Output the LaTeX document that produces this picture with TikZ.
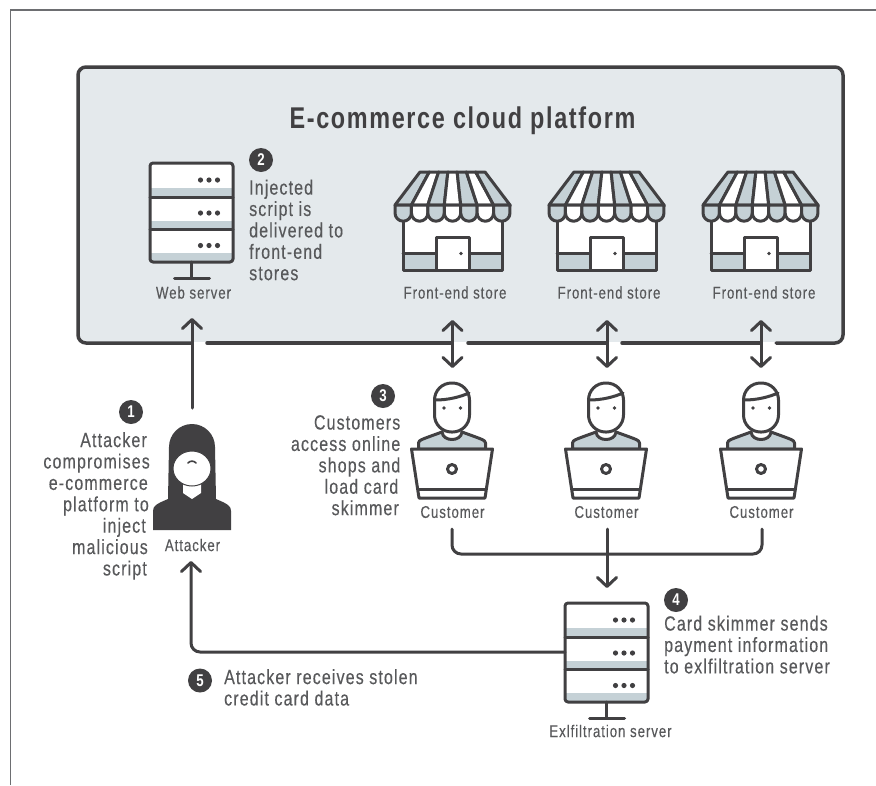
\documentclass[tikz,border=0pt]{standalone}
\usepackage{fontspec}
\setmainfont[FakeStretch=0.78,LetterSpace=5.5,UprightFeatures={FakeBold=0.25},BoldFont={Liberation Sans Bold}]{Liberation Sans}
\usetikzlibrary{arrows.meta}
\definecolor{ink}{HTML}{414042}
\definecolor{txt}{HTML}{58595B}
\definecolor{band}{HTML}{C5D1D6}
\definecolor{plat}{HTML}{E4E9EC}
\definecolor{frame}{HTML}{6D6E71}
\tikzset{
  icon/.style={draw=ink,line width=3pt,line join=round,line cap=round},
  conn/.style={draw=ink,line width=3pt,line cap=round,rounded corners=9pt},
  tipend/.style={-{Straight Barb[length=9pt,width=19pt,round]}},
  tipboth/.style={{Straight Barb[length=9pt,width=19pt,round]}-{Straight Barb[length=9pt,width=19pt,round]}},
  label/.style={text=txt,font=\fontsize{17}{17}\selectfont,inner sep=0pt,anchor=center},
  note/.style={text=txt,font=\fontsize{20.5}{21.4}\selectfont,inner sep=0pt},
  badge/.style={circle,fill=ink,text=white,minimum size=24pt,inner sep=0pt,font=\fontsize{17}{17}\selectfont\bfseries},
  serverpic/.pic={
    \fill[white,rounded corners=3pt] (-41.5,163) rectangle (41.5,262);
    \fill[band] (-41.5,188) rectangle (41.5,197);
    \fill[band] (-41.5,221) rectangle (41.5,229);
    \fill[band] (-41.5,253) rectangle (41.5,262);
    \draw[icon,rounded corners=3pt] (-41.5,163) rectangle (41.5,262);
    \draw[icon] (-41.5,197) -- (41.5,197);
    \draw[icon] (-41.5,229) -- (41.5,229);
    \draw[icon] (0,262) -- (0,278);
    \draw[icon] (-17,278) -- (18,278);
    \foreach \yy in {180,213,245.5}{\foreach \xx in {9,17.5,26}{\fill[ink] (\xx,\yy) circle[radius=2.6pt];}}
  },
  storepic/.pic={
    \fill[white] (-49.5,215) rectangle (49.5,270);
    \fill[band] (-49.5,253) rectangle (49.5,270);
    \draw[icon] (-49.5,215) -- (-49.5,270) -- (49.5,270) -- (49.5,215);
    \draw[icon] (-49.5,253) -- (49.5,253);
    \draw[icon,fill=white] (-16.5,270) -- (-16.5,237) -- (16.5,237) -- (16.5,270) -- cycle;
    \fill[ink] (8.5,253.5) circle[radius=1.9pt];
    \foreach \ii [evaluate=\ii as \ta using -32.5+\ii*65/7,
                  evaluate=\ii as \tb using -32.5+(\ii+1)*65/7,
                  evaluate=\ii as \ba using -57.5+\ii*115/7,
                  evaluate=\ii as \bb using -57.5+(\ii+1)*115/7,
                  evaluate=\ii as \cc using {int(mod(\ii,2))}] in {0,...,6}{
      \ifnum\cc=0 \def\stripe{band}\else \def\stripe{white}\fi
      \draw[icon,fill=\stripe] (\ta,172) -- (\tb,172) -- (\bb,205) -- (\ba,205) -- cycle;
      \draw[icon,fill=\stripe] (\ba,205) -- (\ba,213) arc[start angle=180,end angle=360,radius=8.2pt] -- (\bb,205) -- cycle;
    }
  },
  customerpic/.pic={
    \draw[icon,fill=band] (-33.5,449) -- (-33.5,443) .. controls (-33.5,440) and (-29,439) .. (-10,432)
       .. controls (-9,442) and (9,442) .. (10,432)
       .. controls (29,439) and (33.5,440) .. (33.5,443) -- (33.5,449) -- cycle;
    \draw[icon,fill=white,rounded corners=17pt] (-17.5,383) rectangle (17.5,432);
    \draw[icon] (-16.5,400) .. controls (-4,400) and (8,397) .. (17,393);
    \fill[ink] (-8,408) circle[radius=1.9pt];
    \fill[ink] (8.5,408) circle[radius=1.9pt];
    \draw[icon,fill=white] (-40.5,449) -- (40.5,449) -- (33,498) -- (-33,498) -- cycle;
    \draw[icon] (-34,489) -- (34,489);
    \draw[icon,fill=white] (0,469) circle[radius=4.5pt];
  },
  attackerpic/.pic={
    \fill[ink] (-39,530) -- (-39,511) .. controls (-39,506) and (-36,504) .. (-24,499)
      -- (-23,447) arc[start angle=180,end angle=0,radius=23pt] -- (24,499)
      .. controls (36,504) and (39,506) .. (39,511) -- (39,530) -- cycle;
    \fill[white] (-9,484) -- (-9,493) -- (0,499) -- (9,493) -- (9,484) -- cycle;
    \draw[ink,line width=1pt,fill=white] (0,468.5) ellipse[x radius=19pt,y radius=17.5pt];
    \draw[ink,line width=1.6pt,line cap=round] (-4,463) .. controls (-2,460.5) and (2,460.5) .. (4,463);
  }
}
\begin{document}
\begin{tikzpicture}[x=1pt,y=-1pt]
\useasboundingbox (0,0) rectangle (876,785);
\fill[white] (0,0) rectangle (876,785);
% outer frame
\coordinate (frameA) at (10.5,785);
\coordinate (frameB) at (10.5,10);
\coordinate (frameC) at (876,10);
\draw[frame,line width=1.3pt] (frameA) -- (frameB) -- (frameC);
% platform
\fill[plat,rounded corners=8pt] (78,67) rectangle (843,343);
\fill[white] (194,342) rectangle (206,346);
\fill[white] (454,342) rectangle (467,346);
\fill[white] (609,342) rectangle (621,346);
\fill[white] (763,342) rectangle (775,346);
\draw[ink,line width=3.5pt,line cap=round,rounded corners=8pt] (192,343) -- (78,343) -- (78,67) -- (843,67) -- (843,343) -- (776,343);
\draw[ink,line width=3.5pt,line cap=round] (207,343) -- (452,343);
\draw[ink,line width=3.5pt,line cap=round] (468,343) -- (607,343);
\draw[ink,line width=3.5pt,line cap=round] (622,343) -- (761,343);
\node[text=ink,inner sep=0pt,font=\fontsize{30}{30}\selectfont\bfseries] (title) at (462.5,121) {E-commerce cloud platform};
% icons
\pic at (191.5,0) {serverpic};
\pic at (606.5,440) {serverpic};
\pic at (452.5,0) {storepic};
\pic at (606.5,0) {storepic};
\pic at (760.5,0) {storepic};
\pic at (452,0) {customerpic};
\pic at (606,0) {customerpic};
\pic at (761,0) {customerpic};
\pic at (192,0) {attackerpic};
% icon labels
\node[label] (web) at (193.5,292.5) {Web server};
\node[label] (st1) at (455,292.5) {Front-end store};
\node[label] (st2) at (609,292.5) {Front-end store};
\node[label] (st3) at (764,292.5) {Front-end store};
\node[label] (cu1) at (452.5,512) {Customer};
\node[label] (cu2) at (606.5,512) {Customer};
\node[label] (cu3) at (761.5,512) {Customer};
\node[label] (att) at (192.5,545) {Attacker};
\node[label] (exf) at (610.5,731) {Exlfiltration server};
% badges
\node[badge] (b1) at (131,412) {1};
\node[badge] (b2) at (261,160) {2};
\node[badge] (b3) at (383,396) {3};
\node[badge] (b4) at (676,600) {4};
\node[badge] (b5) at (200,680.5) {5};
% notes
\node[note,align=right,anchor=north east] (n1) at (150,432) {Attacker\kern3pt\\compromises\\e-commerce\kern2pt\\platform to\kern1pt\\inject\kern4pt\\malicious\kern2pt\\script\kern3pt};
\node[note,align=left,anchor=north west] (n2) at (249,179.5) {Injected\\script is\\delivered to\\front-end\\stores};
\node[note,align=right,anchor=north east] (n3) at (400.5,415) {Customers\\access online\\shops and\\load card\kern2pt\\skimmer\kern1.5pt};
\node[note,align=left,anchor=north west] (n4) at (664,615.5) {Card skimmer sends\\payment information\\to exlfiltration server};
\node[note,align=left,anchor=north west] (n5) at (224,669) {Attacker receives stolen\\credit card data};
% connectors
\coordinate (a0) at (192,408);
\coordinate (a1) at (192,318);
\draw[conn,tipend] (a0) -- (a1);
\foreach \nm/\xx in {c/452.5,d/607,e/761}{
  \coordinate (\nm0) at (\xx,320);
  \coordinate (\nm1) at (\xx,368);
  \draw[conn,tipboth] (\nm0) -- (\nm1);
}
\coordinate (j1) at (452,529);
\coordinate (j2) at (452,554);
\coordinate (j3) at (762,554);
\coordinate (j4) at (762,529);
\draw[conn] (j1) -- (j2) -- (j3) -- (j4);
\coordinate (k1) at (607,529);
\coordinate (k2) at (607,588);
\draw[conn,tipend] (k1) -- (k2);
\coordinate (m1) at (565,652);
\coordinate (m2) at (191,652);
\coordinate (m3) at (191,561);
\draw[conn,tipend] (m1) -- (m2) -- (m3);
\end{tikzpicture}
\end{document}
